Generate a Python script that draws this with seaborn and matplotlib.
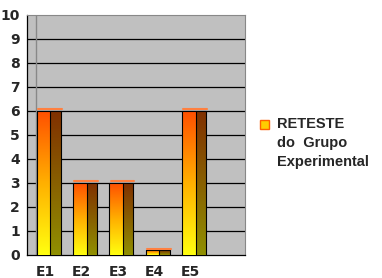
import numpy as np
import pandas as pd
import matplotlib
matplotlib.use("Agg")
import matplotlib.pyplot as plt
from matplotlib.colors import LinearSegmentedColormap
from matplotlib.patches import Rectangle
import seaborn as sns

categories = ["E1", "E2", "E3", "E4", "E5", " "]
values = [6, 3, 3, 0.2, 6, np.nan]
series_label = "RETESTE\ndo  Grupo\nExperimental"
y_ticks = list(range(0, 11))

sns.set_style("white")
plt.rcParams['font.family'] = ['DejaVu Sans']

df = pd.DataFrame({"cat": categories, "val": values})

fig = plt.figure(figsize=(3.82, 2.78), dpi=100)
ax = fig.add_axes([27/382, 23/278, 218/382, 240/278])
ax.set_facecolor("#c0c0c0")

sns.barplot(data=df, x="cat", y="val", ax=ax, width=0.66, color="orange", order=categories)

front_cmap = LinearSegmentedColormap.from_list("f", ["#ffff10", "#ffb000", "#ff5000"])
side_cmap = LinearSegmentedColormap.from_list("s", ["#909000", "#886000", "#803000"])
grad = np.linspace(0, 1, 256).reshape(-1, 1)

for p in list(ax.patches):
    h = p.get_height()
    if h is None or np.isnan(h) or h <= 0:
        p.set_visible(False)
        continue
    x0 = p.get_x() + 0.1
    w = p.get_width()
    p.set_visible(False)
    fw = w * 0.57
    ax.imshow(grad, extent=[x0, x0 + fw, 0, h], origin="lower", cmap=front_cmap,
              aspect="auto", zorder=3, interpolation="bilinear")
    ax.imshow(grad, extent=[x0 + fw, x0 + w, 0, h], origin="lower", cmap=side_cmap,
              aspect="auto", zorder=3, interpolation="bilinear")
    ax.plot([x0, x0, x0 + w, x0 + w], [0, h, h, 0], color="black", lw=0.8, zorder=4)
    ax.plot([x0 + fw, x0 + fw], [0, h], color="black", lw=0.8, zorder=4)
    ax.plot([x0 + 0.03, x0 + w + 0.02], [h + 0.07, h + 0.07], color="#ff8040", lw=1.5, zorder=4)

ax.set_xlim(-0.5, len(categories) - 0.5)
ax.set_ylim(0, 10)
ax.set_yticks(y_ticks)
ax.set_yticklabels([str(t) for t in y_ticks], fontsize=10, fontweight="bold")
ax.set_xticks(range(len(categories)))
ax.set_xticklabels(categories, fontsize=10, fontweight="bold")
ax.set_xticks(np.arange(-0.5, len(categories)), minor=True)
ax.tick_params(axis="x", which="major", length=0, pad=7)
ax.tick_params(axis="x", which="minor", length=4, width=0.8, color="black", direction="out")
ax.tick_params(axis="y", length=4, width=0.8, color="black", direction="out", pad=1)
ax.set_xlabel("")
ax.set_ylabel("")

for y in y_ticks[1:-1]:
    ax.axhline(y, color="black", lw=0.9, zorder=1)
ax.axvline(-0.25, color="#888888", lw=1.0, zorder=1)

for s in ["left", "bottom"]:
    ax.spines[s].set_visible(True)
    ax.spines[s].set_color("black")
    ax.spines[s].set_linewidth(0.9)
ax.spines["top"].set_color("#888888")
ax.spines["right"].set_color("#888888")

# legend: marker + text
fig.patches.append(Rectangle((260/382, 1 - 129/278), 9/382, 9/278, transform=fig.transFigure,
                             facecolor="#ffcc00", edgecolor="#ff6000", lw=1))
fig.text(277/382, 1 - 117/278, series_label, ha="left", va="top", fontsize=10.5,
         family=["Liberation Sans", "DejaVu Sans"], fontweight="bold", linespacing=1.45)

fig.savefig("out.png", dpi=100)
